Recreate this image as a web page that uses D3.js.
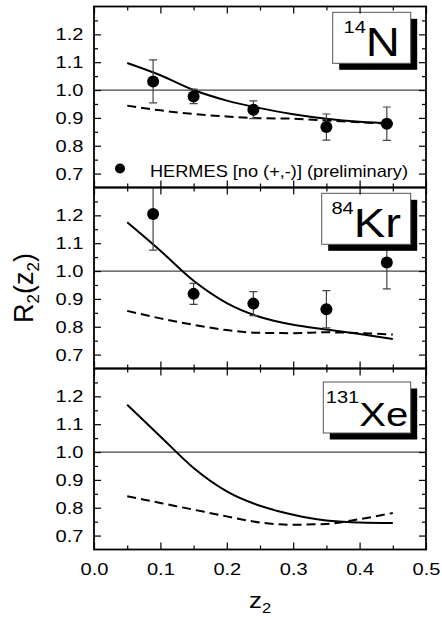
<!DOCTYPE html>
<html>
<head>
<meta charset="utf-8">
<script src="https://cdn.jsdelivr.net/npm/d3@7"></script>
<style>
  body { margin: 0; background: #fff; }
  svg { display: block; font-family: Arial, 'Liberation Sans', sans-serif; }
</style>
</head>
<body>
<div class="canvas"></div>
<script>
// ---- data ----
const zTicks = [0, 0.1, 0.2, 0.3, 0.4, 0.5];
const zMinor = [0.05, 0.15, 0.25, 0.35, 0.45];
const rTicks = [0.7, 0.8, 0.9, 1.0, 1.1, 1.2];
const rMinor = [0.75, 0.85, 0.95, 1.05, 1.15, 1.25];

const curveZ = [0.05, 0.10, 0.15, 0.20, 0.25, 0.30, 0.35, 0.40, 0.45];
const n14Solid = [1.097, 1.053, 1.000, 0.962, 0.935, 0.913, 0.897, 0.886, 0.880];
const n14Dashed = [0.944, 0.927, 0.914, 0.905, 0.899, 0.897, 0.891, 0.884, 0.879];
const kr84Solid = [1.175, 1.073, 0.965, 0.885, 0.835, 0.807, 0.790, 0.774, 0.756];
const kr84Dashed = [0.857, 0.830, 0.807, 0.788, 0.778, 0.777, 0.780, 0.777, 0.772];
const xe131Solid = [1.170, 1.056, 0.943, 0.859, 0.807, 0.775, 0.754, 0.747, 0.745];
const xe131Dashed = [0.841, 0.817, 0.793, 0.769, 0.747, 0.739, 0.742, 0.759, 0.781];

const hermesZ = [0.089, 0.15, 0.24, 0.35, 0.441];
const n14R = [1.031, 0.977, 0.929, 0.867, 0.879];
const n14Err = [0.077, 0.026, 0.032, 0.047, 0.060];
const kr84R = [1.205, 0.918, 0.883, 0.863, 1.031];
const kr84Err = [0.130, 0.038, 0.043, 0.067, 0.095];

const nucleusMass = ['14', '84', '131'];
const nucleusSymbol = ['N', 'Kr', 'Xe'];
const legendLabel = 'HERMES [no (+,-)] (preliminary)';

// ---- layout ----
const width = 442, height = 617;
const left = 94, right = 426;
const panelTop = 6.5, panelH = 181;
const stretch = 1.18;   // the original's lettering is a bit wide

// label box placement, relative to each panel (x, top, width, font size)
const boxes = [
    {x: 332.7, top: 5.8, w: 78, size: 40},
    {x: 321.7, top: 5.8, w: 89, size: 40},
    {x: 323.3, top: 13.5, w: 87.4, size: 34}
];

const panels = [
    {solid: n14Solid, dashed: n14Dashed, pts: n14R, err: n14Err},
    {solid: kr84Solid, dashed: kr84Dashed, pts: kr84R, err: kr84Err},
    {solid: xe131Solid, dashed: xe131Dashed, pts: null, err: null}
];

const svg = d3.select('.canvas')
    .append('svg')
    .attr('width', width)
    .attr('height', height);

const x = d3.scaleLinear().domain([0, 0.5]).range([left, right]);

const line = y => d3.line()
    .x((d, i) => x(curveZ[i]))
    .y(d => y(d))
    .curve(d3.curveMonotoneX);

panels.forEach((p, k) => {
    const y0 = panelTop + k * panelH;
    const y = d3.scaleLinear().domain([0.65, 1.3]).range([y0 + panelH, y0]);
    const g = svg.append('g');

    g.append('clipPath').attr('id', 'clip' + k)
        .append('rect')
        .attr('x', left).attr('y', y0)
        .attr('width', right - left).attr('height', panelH);

    const inner = g.append('g').attr('clip-path', `url(#clip${k})`);

    // reference line at R = 1
    inner.append('line')
        .attr('x1', left).attr('x2', right)
        .attr('y1', y(1)).attr('y2', y(1))
        .attr('stroke', '#444')
        .attr('stroke-width', 1.2);

    inner.append('path')
        .datum(p.dashed)
        .attr('fill', 'none')
        .attr('stroke', '#000')
        .attr('stroke-width', 2)
        .attr('stroke-dasharray', '9,5')
        .attr('d', line(y));

    inner.append('path')
        .datum(p.solid)
        .attr('fill', 'none')
        .attr('stroke', '#000')
        .attr('stroke-width', 2)
        .attr('d', line(y));

    if (p.pts) {
        const pts = p.pts.map((r, i) => ({z: hermesZ[i], r: r, e: p.err[i]}));
        const bars = inner.selectAll('.err').data(pts).enter().append('g')
            .attr('stroke', '#444')
            .attr('stroke-width', 1.2);
        bars.append('line')
            .attr('x1', d => x(d.z)).attr('x2', d => x(d.z))
            .attr('y1', d => y(d.r + d.e)).attr('y2', d => y(d.r - d.e));
        bars.append('line')
            .attr('x1', d => x(d.z) - 4).attr('x2', d => x(d.z) + 4)
            .attr('y1', d => y(d.r + d.e)).attr('y2', d => y(d.r + d.e));
        bars.append('line')
            .attr('x1', d => x(d.z) - 4).attr('x2', d => x(d.z) + 4)
            .attr('y1', d => y(d.r - d.e)).attr('y2', d => y(d.r - d.e));

        inner.selectAll('circle').data(pts).enter().append('circle')
            .attr('cx', d => x(d.z))
            .attr('cy', d => y(d.r))
            .attr('r', 6)
            .attr('fill', '#000');
    }

    // nucleus label box with drop shadow
    const b = boxes[k];
    const by = y0 + b.top, bh = 51;
    g.append('rect')
        .attr('x', b.x + 6.5).attr('y', by + 6.5)
        .attr('width', b.w).attr('height', bh)
        .attr('fill', '#000');
    g.append('rect')
        .attr('x', b.x).attr('y', by)
        .attr('width', b.w).attr('height', bh)
        .attr('fill', '#fff')
        .attr('stroke', '#555')
        .attr('stroke-width', 1);
    const lab = g.append('text')
        .attr('transform', `translate(${b.x + b.w / 2},${by + 20.5}) scale(${stretch},1)`)
        .attr('text-anchor', 'middle');
    lab.append('tspan')
        .attr('font-size', 17)
        .text(nucleusMass[k]);
    lab.append('tspan')
        .attr('font-size', b.size)
        .attr('dy', 23)
        .text(nucleusSymbol[k]);

    // axes, ticks pointing inward on all sides
    const axes = [
        [d3.axisLeft(y), `translate(${left},0)`, rTicks, rMinor, true],
        [d3.axisRight(y), `translate(${right},0)`, rTicks, rMinor, false],
        [d3.axisTop(x), `translate(0,${y0})`, zTicks, zMinor, false],
        [d3.axisBottom(x), `translate(0,${y0 + panelH})`, zTicks, zMinor, k === 2]
    ];
    axes.forEach(([ax, tr, major, minor, labels]) => {
        const fmt = labels ? d3.format('.1f') : () => '';
        const gMaj = g.append('g').attr('transform', tr)
            .call(ax.tickValues(major).tickSize(-7).tickPadding(labels && major === rTicks ? 9 : 13).tickFormat(fmt));
        const gMin = g.append('g').attr('transform', tr)
            .call(ax.tickValues(minor).tickSize(-4).tickFormat(''));
        [gMaj, gMin].forEach(s => {
            s.select('.domain').remove();
            s.selectAll('line').attr('stroke', '#000').attr('stroke-width', 1.2);
        });
        gMaj.selectAll('text')
            .attr('font-size', 17)
            .attr('font-family', 'Arial, Liberation Sans, sans-serif')
            .attr('fill', '#000')
            .attr('transform', `scale(${stretch},1)`);
    });

    g.append('rect')
        .attr('x', left).attr('y', y0)
        .attr('width', right - left).attr('height', panelH)
        .attr('fill', 'none')
        .attr('stroke', '#000')
        .attr('stroke-width', 1.8);

    if (k === 0) {
        svg.append('circle')
            .attr('cx', 120).attr('cy', y(0.7) - 5)
            .attr('r', 5)
            .attr('fill', '#000');
        svg.append('text')
            .attr('x', 150).attr('y', y(0.7) + 3)
            .attr('font-size', 17)
            .attr('textLength', 258)
            .attr('lengthAdjust', 'spacingAndGlyphs')
            .text(legendLabel);
    }
});

// axis titles
const yTitle = svg.append('text')
    .attr('transform', `translate(33,${panelTop + 1.5 * panelH + 10}) rotate(-90)`)
    .attr('text-anchor', 'middle')
    .attr('font-size', 27);
yTitle.append('tspan').text('R');
yTitle.append('tspan').attr('font-size', 17).attr('dy', 6).text('2');
yTitle.append('tspan').attr('dy', -6).text('(z');
yTitle.append('tspan').attr('font-size', 17).attr('dy', 6).text('2');
yTitle.append('tspan').attr('dy', -6).text(')');

const xTitle = svg.append('text')
    .attr('transform', `translate(${x(0.25)},${608}) scale(${stretch},1)`)
    .attr('text-anchor', 'middle')
    .attr('font-size', 22);
xTitle.append('tspan').text('z');
xTitle.append('tspan').attr('font-size', 14).attr('dy', 5).text('2');
</script>
</body>
</html>
